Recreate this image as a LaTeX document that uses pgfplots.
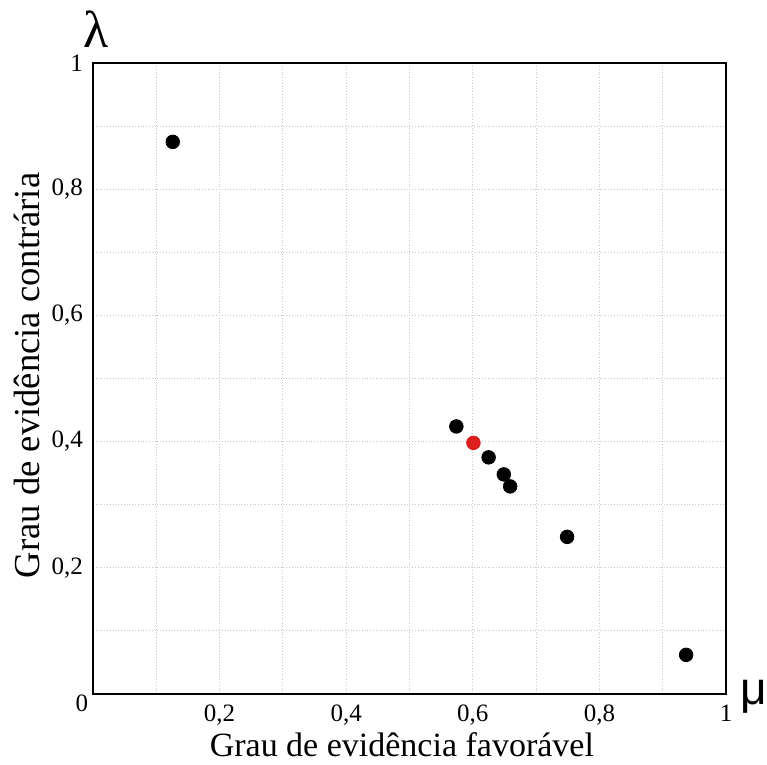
\documentclass[border=0pt]{standalone}
\usepackage{pgfplots}
\pgfplotsset{compat=1.18}
\usepackage{fontspec}
\setmainfont{Liberation Serif}
\newfontfamily\greeksans{Liberation Sans}
\begin{document}
\begin{tikzpicture}
\begin{axis}[
    scale only axis,
    width=316.5pt, height=315.5pt,
    xmin=0, xmax=1, ymin=0, ymax=1,
    xtick={0,0.2,0.4,0.6,0.8,1},
    ytick={0,0.2,0.4,0.6,0.8,1},
    minor xtick={0.1,0.3,0.5,0.7,0.9},
    minor ytick={0.1,0.3,0.5,0.7,0.9},
    xticklabels={{}, {0,2}, {0,4}, {0,6}, {0,8}, 1},
    yticklabels={{}, {0,2}, {0,4}, {0,6}, {0,8}, 1},
    major tick length=0pt, minor tick length=0pt,
    grid=both,
    grid style={densely dotted, gray!45, line width=0.5pt},
    axis line style={line width=1pt},
    tick label style={font=\fontsize{12.5}{14}\selectfont},
    xticklabel style={yshift=-2pt},
    yticklabel style={xshift=-1.5pt},
    xlabel={Grau de evidência favorável},
    ylabel={Grau de evidência contrária},
    xlabel style={font=\fontsize{17}{20}\selectfont, at={([yshift=-25.5pt]axis description cs:0.488,0)}, anchor=center},
    ylabel style={font=\fontsize{18.3}{20}\selectfont, at={([xshift=-33pt]axis description cs:0,0.505)}, anchor=center},
    clip=false,
]
\addplot[only marks, mark=*, mark size=3.4pt, black] coordinates {
    (0.126, 0.875) (0.574, 0.424) (0.625, 0.375) (0.649, 0.348)
    (0.659, 0.329) (0.749, 0.249) (0.937, 0.062)
};
\addplot[only marks, mark=*, mark size=3.4pt, color={rgb,255:red,220;green,30;blue,30}] coordinates {
    (0.601, 0.398)
};
\path ([xshift=-46.5pt, yshift=-35.5pt]rel axis cs:0,0) rectangle ([xshift=20.5pt, yshift=31.5pt]rel axis cs:1,1);
\node[font=\fontsize{12.5}{14}\selectfont] at ([xshift=-5.5pt,yshift=-4.5pt]rel axis cs:0,0) {0};
\node[font=\fontsize{26}{28}\selectfont, anchor=south, inner sep=0pt] at ([xshift=1.5pt,yshift=7.5pt]rel axis cs:0,1) {λ};
\node[font=\greeksans\fontsize{23}{26}\selectfont, anchor=base west, inner sep=0pt] at ([xshift=7pt,yshift=-5.5pt]rel axis cs:1,0) {μ};
\end{axis}
\end{tikzpicture}
\end{document}
